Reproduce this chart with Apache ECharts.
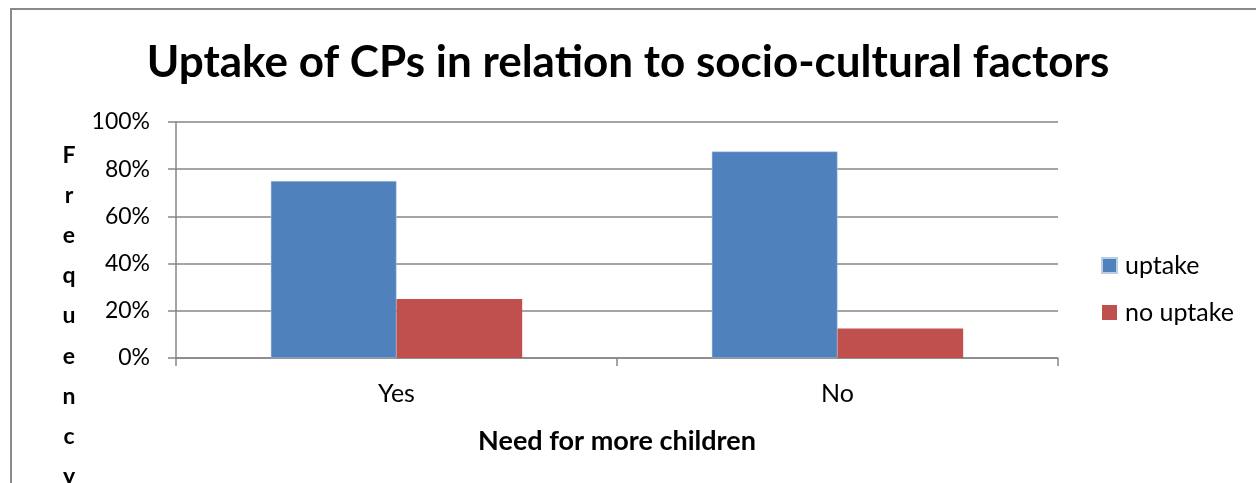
<!DOCTYPE html>
<html>
<head>
<meta charset="utf-8">
<style>
  html, body { margin: 0; padding: 0; background: #fff; }
  #chart { width: 1256px; height: 483px; }
</style>
<script src="https://cdn.jsdelivr.net/npm/echarts@6/dist/echarts.min.js"></script>
</head>
<body>
<div id="chart"></div>
<script>
  // data
  var categories = ["Yes", "No"];
  var uptake = [0.75, 0.875];
  var noUptake = [0.25, 0.125];
  var seriesNames = ["uptake", "no uptake"];
  var yTicks = [0, 0.2, 0.4, 0.6, 0.8, 1.0];

  var font = "Lato, 'Open Sans', sans-serif";
  var gridColor = "#868686";

  var chart = echarts.init(document.getElementById("chart"), null, { renderer: "canvas" });

  chart.setOption({
    animation: false,
    textStyle: { fontFamily: font, color: "#000" },
    color: ["#4f81bd", "#c0504d"],
    title: [{
      text: "Uptake of CPs in relation to socio-cultural factors",
      left: "center",
      top: 36,
      textStyle: { fontFamily: font, fontSize: 44, fontWeight: "bold", color: "#000" }
    }, {
      // stacked vertical axis title, as in the original
      text: "Frequency".split("").join("\n"),
      left: 64,
      top: 130,
      textAlign: "center",
      textStyle: { fontFamily: font, fontSize: 23, fontWeight: "bold", color: "#000", lineHeight: 40.2, align: "center" }
    }],
    graphic: [{
      type: "rect",
      shape: { x: 11, y: 9, width: 1300, height: 600 },
      style: { fill: "none", stroke: "#898989", lineWidth: 2 },
      silent: true
    }],
    legend: {
      orient: "vertical",
      left: 1096,
      top: 248,
      itemWidth: 15,
      itemHeight: 15,
      itemGap: 22,
      icon: "rect",
      textStyle: { fontFamily: font, fontSize: 25, color: "#000", padding: [0, 0, 0, 3] },
      data: seriesNames
    },
    grid: { left: 176, right: 198, top: 122, bottom: 125, containLabel: false },
    xAxis: {
      type: "category",
      data: categories,
      name: "Need for more children",
      nameLocation: "middle",
      nameGap: 70,
      nameTextStyle: { fontFamily: font, fontSize: 27, fontWeight: "bold", color: "#000" },
      axisLine: { lineStyle: { color: gridColor, width: 1.5 } },
      axisTick: { show: true, length: 8, inside: false, lineStyle: { color: gridColor, width: 1.5 } },
      axisLabel: { fontFamily: font, fontSize: 25, color: "#000", margin: 23 }
    },
    yAxis: {
      type: "value",
      min: 0,
      max: 1,
      interval: 0.2,
      axisLine: { show: true, lineStyle: { color: gridColor, width: 1.5 } },
      axisTick: { show: true, length: 8, lineStyle: { color: gridColor, width: 1.5 } },
      splitLine: { lineStyle: { color: gridColor, width: 1.5 } },
      axisLabel: {
        fontFamily: font, fontSize: 23, color: "#000", margin: 26,
        formatter: function (v) { return Math.round(v * 100) + "%"; }
      }
    },
    series: [{
      name: seriesNames[0],
      type: "bar",
      data: uptake,
      barGap: "0%",
      barCategoryGap: "43%",
      itemStyle: { borderColor: "#b9cde5", borderWidth: 0.5 }
    }, {
      name: seriesNames[1],
      type: "bar",
      data: noUptake,
      barGap: "0%",
      barCategoryGap: "43%"
    }]
  });
</script>
</body>
</html>
